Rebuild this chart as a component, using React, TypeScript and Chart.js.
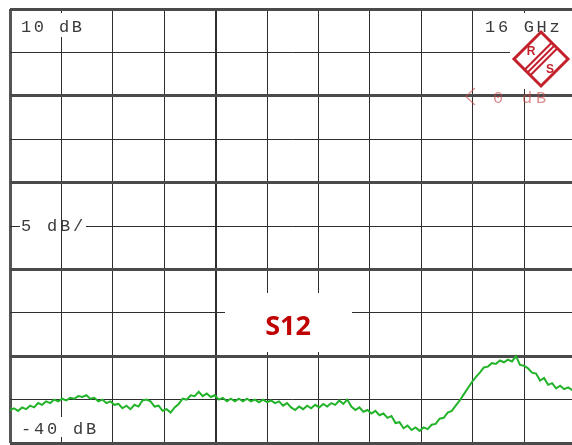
import React, { useEffect, useRef } from "react";
import { Chart, registerables } from "chart.js";
Chart.register(...registerables);

// Sweep: frequency points (GHz)
const SWEEP_START_GHZ = 0;
const SWEEP_STEP_GHZ = 0.125;
const GHZ_PER_DIV = 1.6;
const X_DIVS = [0, 1, 2, 3, 4, 5, 6, 7, 8, 9, 10, 11];

// Y axis: 10 dB top, 5 dB/div, -40 dB bottom
const Y_TICKS = [10, 5, 0, -5, -10, -15, -20, -25, -30, -35, -40];

// S12 trace (dB)
const s12Db = [
  -36.2, -36.0, -36.3, -35.9, -36.1, -35.7, -35.9, -35.4, -35.6, -35.2,
  -35.4, -35.0, -35.2, -34.9, -35.1, -34.8, -34.9, -34.6, -34.7, -34.5,
  -34.9, -34.8, -35.2, -35.0, -35.4, -35.2, -35.6, -35.5, -36.0, -35.7,
  -36.1, -35.6, -35.8, -35.1, -35.0, -35.2, -35.8, -35.7, -36.3, -36.1,
  -36.5, -35.9, -35.5, -34.9, -35.0, -34.5, -34.6, -34.1, -34.6, -34.3,
  -34.7, -34.5, -35.0, -34.8, -35.2, -34.9, -35.2, -34.9, -35.2, -34.9,
  -35.2, -35.0, -35.3, -35.0, -35.3, -35.1, -35.4, -35.2, -35.7, -35.4,
  -35.9, -36.2, -35.8, -36.1, -35.7, -36.0, -35.6, -35.9, -35.5, -35.8,
  -35.4, -35.6, -35.1, -35.5, -35.0, -35.8, -36.2, -35.9, -36.4, -36.2,
  -36.6, -36.3, -36.8, -36.6, -37.1, -36.9, -37.7, -37.6, -38.3, -38.0,
  -38.5, -38.2, -38.6, -38.2, -38.4, -37.9, -37.8, -37.2, -37.1, -36.5,
  -36.3, -35.7, -35.1, -34.4, -33.7, -33.0, -32.4, -31.9, -31.3, -31.2,
  -30.8, -30.9, -30.5, -30.7, -30.4, -30.6, -30.0, -31.0, -31.1, -31.4,
  -31.9, -32.0, -32.8, -32.5, -33.3, -33.1, -33.7, -33.4, -33.8, -33.6,
  -33.9,
];
const freqGhz = s12Db.map((_, i) => SWEEP_START_GHZ + i * SWEEP_STEP_GHZ);

const TEXT_COLOR = "#3a3a3a";
const MONO = '17px "Liberation Mono"';

function drawMono(ctx: CanvasRenderingContext2D, text: string, x: number, y: number, pitch: number, color: string) {
  ctx.save();
  ctx.font = MONO;
  ctx.fillStyle = color;
  ctx.textBaseline = "alphabetic";
  ctx.textAlign = "left";
  for (let i = 0; i < text.length; i++) {
    ctx.fillText(text[i], x + i * pitch, y);
  }
  ctx.restore();
}

const overlayPlugin = {
  id: "overlay",
  beforeDatasetsDraw(chart: any) {
    const ctx: CanvasRenderingContext2D = chart.ctx;
    const xs = chart.scales.x;
    ctx.save();
    ctx.fillStyle = "#ffffff";
    // label boxes
    ctx.fillRect(13, 13, 88, 24);
    ctx.fillRect(478, 13, 130, 24);
    ctx.fillRect(510, 37, 90, 52);
    ctx.fillRect(13, 417, 88, 20);
    ctx.fillRect(20, 222, 66, 8);
    ctx.fillRect(225, 293, 127, 59);
    // restore vertical grid line through "5 dB/" box
    const x1 = Math.round(xs.getPixelForValue(GHZ_PER_DIV)) + 0.5;
    ctx.strokeStyle = "#333";
    ctx.lineWidth = 1;
    ctx.beginPath();
    ctx.moveTo(x1, 221);
    ctx.lineTo(x1, 231);
    ctx.stroke();
    ctx.restore();

    drawMono(ctx, "10 dB", 21, 32, 12.7, TEXT_COLOR);
    drawMono(ctx, "16 GHz", 485, 32, 12.9, TEXT_COLOR);
    drawMono(ctx, "5 dB/", 21, 231, 13, TEXT_COLOR);
    drawMono(ctx, "-40 dB", 21, 434, 13, TEXT_COLOR);

    // reference marker (red, faint)
    ctx.save();
    const refCol = "rgba(200,70,70,0.6)";
    ctx.strokeStyle = refCol;
    ctx.lineWidth = 1.3;
    ctx.beginPath();
    ctx.moveTo(475, 88);
    ctx.lineTo(466, 96.5);
    ctx.lineTo(475, 105);
    ctx.stroke();
    ctx.restore();
    drawMono(ctx, "0", 493, 103, 13, refCol);
    drawMono(ctx, "dB", 522, 103, 14, refCol);

    // R&S logo
    ctx.save();
    const red = "#c3202c";
    const cx = 541, cy = 59, r = 27;
    ctx.strokeStyle = red;
    ctx.lineWidth = 3;
    ctx.lineJoin = "miter";
    ctx.beginPath();
    ctx.moveTo(cx, cy - r);
    ctx.lineTo(cx + r, cy);
    ctx.lineTo(cx, cy + r);
    ctx.lineTo(cx - r, cy);
    ctx.closePath();
    ctx.stroke();
    ctx.lineWidth = 2;
    for (const off of [-4, 0, 4]) {
      const ox = off / Math.SQRT2, oy = off / Math.SQRT2;
      ctx.beginPath();
      ctx.moveTo(cx - 14 + ox, cy + 14 + oy);
      ctx.lineTo(cx + 14 + ox, cy - 14 + oy);
      ctx.stroke();
    }
    ctx.fillStyle = red;
    ctx.font = 'bold 12px "Liberation Sans"';
    ctx.textAlign = "center";
    ctx.textBaseline = "middle";
    ctx.fillText("R", cx - 10, cy - 7);
    ctx.fillText("S", cx + 9, cy + 11);
    ctx.restore();

    // S12 label
    ctx.save();
    ctx.fillStyle = "#c00000";
    ctx.font = 'bold 27px "Open Sans"';
    ctx.textAlign = "center";
    ctx.textBaseline = "alphabetic";
    ctx.fillText("S12", 288, 335);
    ctx.restore();
  },
};

export default function App() {
  const ref = useRef<HTMLCanvasElement | null>(null);
  useEffect(() => {
    if (!ref.current) return;
    const chart = new Chart(ref.current, {
      type: "line",
      data: {
        labels: freqGhz,
        datasets: [
          {
            label: "S12",
            data: freqGhz.map((f, i) => ({ x: f, y: s12Db[i] })),
            borderColor: "#22b32a",
            borderWidth: 2,
            pointRadius: 0,
            tension: 0,
            fill: false,
          },
        ],
      },
      options: {
        animation: false,
        responsive: false,
        maintainAspectRatio: false,
        layout: { padding: { left: 10, top: 9, right: 600 - (10 + 11 * 51.4), bottom: 2 } },
        plugins: { legend: { display: false }, tooltip: { enabled: false } },
        scales: {
          x: {
            type: "linear",
            min: 0,
            max: 11 * GHZ_PER_DIV,
            afterBuildTicks: (s: any) => {
              s.ticks = X_DIVS.map((d) => ({ value: d * GHZ_PER_DIV }));
            },
            ticks: { display: false, padding: 0 },
            border: { display: false },
            grid: {
              drawTicks: false,
              color: (c: any) => (c.index === 0 ? "#555" : "#2e2e2e"),
              lineWidth: (c: any) => (c.index === 0 ? 3 : c.index === 4 ? 2 : 1),
            },
          },
          y: {
            type: "linear",
            min: -40,
            max: 10,
            afterBuildTicks: (s: any) => {
              s.ticks = Y_TICKS.map((v) => ({ value: v }));
            },
            ticks: { display: false, padding: 0 },
            border: { display: false },
            grid: {
              drawTicks: false,
              color: (c: any) => (c.tick && c.tick.value % 10 === 0 ? "#4a4a4a" : "#2e2e2e"),
              lineWidth: (c: any) => (c.tick && c.tick.value % 10 === 0 ? 3 : 1),
            },
          },
        },
      },
      plugins: [overlayPlugin],
    });
    return () => chart.destroy();
  }, []);
  return (
    <div style={{ position: "fixed", left: 0, top: 0, width: 572, height: 445, overflow: "hidden", background: "#fff" }}>
      <canvas ref={ref} width={600} height={445} style={{ display: "block", width: 600, height: 445 }} />
    </div>
  );
}
